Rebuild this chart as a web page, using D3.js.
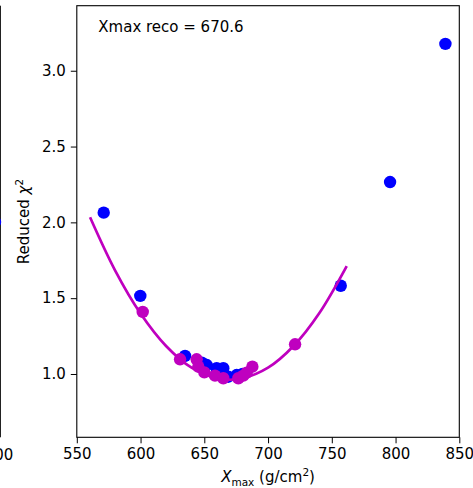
<!DOCTYPE html>
<html>
<head>
<meta charset="utf-8">
<script src="https://cdn.jsdelivr.net/npm/d3@7/dist/d3.min.js"></script>
<style>
  html, body { margin: 0; padding: 0; background: #fff; }
  svg { display: block; }
  text { font-family: "DejaVu Sans", sans-serif; }
</style>
</head>
<body>
<svg id="chart" width="473" height="488"></svg>
<script>
// ---- data ----
const blueX = [571.1, 599.8, 634.9, 648.0, 651.9, 659.7, 664.9, 668.8, 675.4, 680.0, 757.0, 795.7, 839.1];
const blueY = [2.064, 1.515, 1.119, 1.075, 1.059, 1.038, 1.038, 0.982, 0.993, 1.000, 1.582, 2.266, 3.177];
const fitX = [601.7, 631.0, 644.0, 645.3, 650.0, 658.4, 664.9, 676.7, 680.6, 683.3, 687.7, 721.2];
const fitY = [1.409, 1.097, 1.097, 1.048, 1.011, 0.989, 0.972, 0.972, 0.989, 1.009, 1.048, 1.196];
const curveX = [560.4, 580, 600, 620, 640, 660, 670, 680, 700, 720, 740, 761.7];
const curveY = [2.034, 1.684, 1.399, 1.185, 1.042, 0.971, 0.962, 0.971, 1.042, 1.185, 1.399, 1.712];
const xTicks = [550, 600, 650, 700, 750, 800, 850];
const yTicks = [1.0, 1.5, 2.0, 2.5, 3.0];
const annotation = "Xmax reco = 670.6";

const svg = d3.select("#chart");
const L = 76.8, R = 459.3, T = 5.7, B = 437.3;
const x = d3.scaleLinear().domain([550, 850]).range([L, R]);
const y = d3.scaleLinear().domain([0.5825, 3.429]).range([B, T]);
const FS = 15;

// partial neighbouring panel at the left edge
svg.append("line").attr("x1", 0.5).attr("x2", 0.5).attr("y1", T).attr("y2", B)
  .attr("stroke", "#222").attr("stroke-width", 1);
svg.append("circle").attr("cx", -5).attr("cy", 222).attr("r", 6.2).attr("fill", "#0000ff");
svg.append("text").attr("x", -1).attr("y", 459.5).attr("text-anchor", "middle")
  .attr("font-size", FS).text("900");

// clip for plot area
svg.append("defs").append("clipPath").attr("id", "clip")
  .append("rect").attr("x", L).attr("y", T).attr("width", R - L).attr("height", B - T);
const plot = svg.append("g").attr("clip-path", "url(#clip)");

// blue points
plot.selectAll("circle.blue").data(blueX.map((d, i) => [d, blueY[i]])).enter()
  .append("circle").attr("class", "blue")
  .attr("cx", d => x(d[0])).attr("cy", d => y(d[1])).attr("r", 6.2).attr("fill", "#0000ff");

// fit curve
const line = d3.line().x(d => x(d[0])).y(d => y(d[1])).curve(d3.curveCatmullRom);
plot.append("path").datum(curveX.map((d, i) => [d, curveY[i]]))
  .attr("d", line).attr("fill", "none").attr("stroke", "#bf00bf").attr("stroke-width", 2.7);

// magenta points
plot.selectAll("circle.fit").data(fitX.map((d, i) => [d, fitY[i]])).enter()
  .append("circle").attr("class", "fit")
  .attr("cx", d => x(d[0])).attr("cy", d => y(d[1])).attr("r", 6.2).attr("fill", "#bf00bf");

// axes
const xAxis = svg.append("g").attr("transform", `translate(0,${B})`)
  .call(d3.axisBottom(x).tickValues(xTicks).tickFormat(d3.format("d")).tickSize(6).tickPadding(5).tickSizeOuter(0));
const yAxis = svg.append("g").attr("transform", `translate(${L},0)`)
  .call(d3.axisLeft(y).tickValues(yTicks).tickFormat(d3.format(".1f")).tickSize(6).tickPadding(5).tickSizeOuter(0));
[xAxis, yAxis].forEach(g => {
  g.select(".domain").remove();
  g.selectAll("text").attr("font-size", FS).attr("font-family", "DejaVu Sans").attr("fill", "#000");
  g.selectAll("line").attr("stroke", "#000").attr("stroke-width", 1);
});

// frame
svg.append("rect").attr("x", L).attr("y", T).attr("width", R - L).attr("height", B - T)
  .attr("fill", "none").attr("stroke", "#000").attr("stroke-width", 1.1);

// annotation
svg.append("text").attr("x", 98.3).attr("y", 32.3).attr("font-size", FS).text(annotation);

// x label
const xl = svg.append("text").attr("x", (L + R) / 2).attr("y", 482).attr("text-anchor", "middle").attr("font-size", FS);
xl.append("tspan").attr("font-style", "italic").text("X");
xl.append("tspan").attr("font-size", 10.5).attr("dy", 3.5).text("max");
xl.append("tspan").attr("dy", -3.5).text(" (g/cm");
xl.append("tspan").attr("font-size", 10.5).attr("dy", -6).text("2");
xl.append("tspan").attr("dy", 6).text(")");

// y label
const yl = svg.append("text").attr("transform", `translate(29,${(T + B) / 2}) rotate(-90)`)
  .attr("text-anchor", "middle").attr("font-size", FS);
yl.append("tspan").text("Reduced ");
yl.append("tspan").attr("font-style", "italic").text("χ");
yl.append("tspan").attr("font-size", 10.5).attr("dy", -6).text("2");
</script>
</body>
</html>
